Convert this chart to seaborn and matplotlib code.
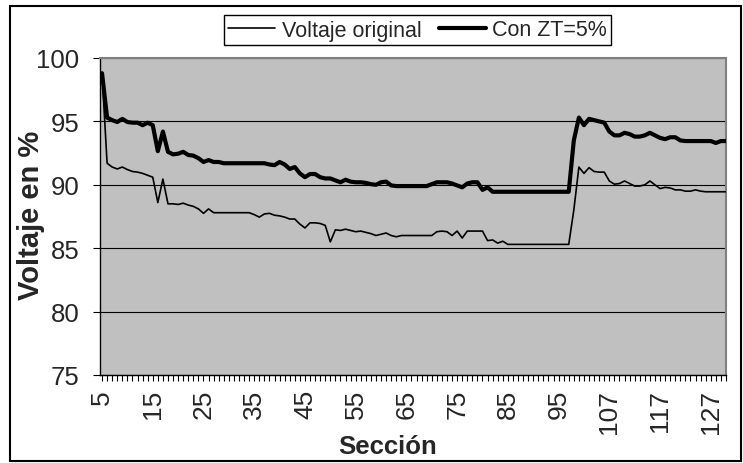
import numpy as np
import pandas as pd
import matplotlib
matplotlib.use("Agg")
import matplotlib.pyplot as plt
from matplotlib.patches import Rectangle
import seaborn as sns

# ---- data ----
secciones = list(range(5, 96)) + [96, 97, 98, 99, 100, 101, 102, 104, 106] + list(range(107, 131))

voltaje_original = [
    98.8, 91.7, 91.4, 91.25, 91.4, 91.2, 91.05, 91.0, 90.9, 90.75,
    90.6, 88.6, 90.45, 88.5, 88.5, 88.45, 88.55, 88.4, 88.3, 88.1,
    87.75, 88.1, 87.8, 87.8, 87.8, 87.8, 87.8, 87.8, 87.8, 87.8,
    87.65, 87.45, 87.7, 87.75, 87.6, 87.55, 87.45, 87.3, 87.3, 86.9,
    86.6, 87.0, 87.0, 86.95, 86.8, 85.5, 86.45, 86.4, 86.5, 86.4,
    86.3, 86.35, 86.25, 86.15, 86.0, 86.1, 86.2, 86.0, 85.9, 86.0,
    86.0, 86.0, 86.0, 86.0, 86.0, 86.0, 86.3, 86.35, 86.3, 86.0,
    86.35, 85.8, 86.35, 86.35, 86.35, 86.35, 85.6, 85.65, 85.4, 85.55,
    85.3, 85.3, 85.3, 85.3, 85.3, 85.3, 85.3, 85.3, 85.3, 85.3,
    85.3, 85.3, 85.3, 88.0, 91.4, 90.9, 91.35, 91.05, 91.0, 91.0,
    90.3, 90.05, 90.1, 90.3, 90.1, 89.9, 89.9, 90.0, 90.3, 90.0,
    89.7, 89.8, 89.75, 89.6, 89.6, 89.5, 89.5, 89.6, 89.5, 89.45,
    89.45, 89.45, 89.45, 89.45,
]

con_zt5 = [
    98.8, 95.3, 95.1, 94.95, 95.2, 94.95, 94.9, 94.9, 94.7, 94.9,
    94.7, 92.65, 94.2, 92.6, 92.4, 92.45, 92.6, 92.35, 92.3, 92.1,
    91.8, 91.95, 91.8, 91.8, 91.7, 91.7, 91.7, 91.7, 91.7, 91.7,
    91.7, 91.7, 91.7, 91.6, 91.55, 91.8, 91.6, 91.25, 91.4, 90.9,
    90.6, 90.85, 90.85, 90.6, 90.5, 90.5, 90.35, 90.2, 90.4, 90.25,
    90.2, 90.2, 90.15, 90.05, 90.0, 90.2, 90.25, 89.95, 89.9, 89.9,
    89.9, 89.9, 89.9, 89.9, 89.9, 90.05, 90.2, 90.2, 90.2, 90.1,
    89.95, 89.8, 90.1, 90.2, 90.2, 89.6, 89.8, 89.45, 89.45, 89.45,
    89.45, 89.45, 89.45, 89.45, 89.45, 89.45, 89.45, 89.45, 89.45, 89.45,
    89.45, 89.45, 89.45, 93.5, 95.3, 94.7, 95.2, 95.1, 95.0, 94.9,
    94.2, 93.9, 93.9, 94.1, 94.0, 93.8, 93.8, 93.9, 94.1, 93.9,
    93.7, 93.6, 93.75, 93.75, 93.5, 93.45, 93.45, 93.45, 93.45, 93.45,
    93.45, 93.3, 93.45, 93.45,
]

y_ticks = [75, 80, 85, 90, 95, 100]
label_every = 10

# ---- style ----
sns.set_theme(style="white")
plt.rcParams['font.family'] = ['Liberation Sans', 'DejaVu Sans']

W, H = 743, 464
fig = plt.figure(figsize=(W / 100, H / 100), dpi=100)
ax = fig.add_axes([100 / W, (H - 376) / H, 626 / W, 317 / H])
ax.set_facecolor('#C0C0C0')

idx = np.arange(len(secciones))
df = pd.DataFrame({"idx": idx, "orig": voltaje_original, "zt": con_zt5})

sns.lineplot(data=df, x="idx", y="orig", ax=ax, color='black', linewidth=1.2,
             label="Voltaje original", legend=False, zorder=3)
sns.lineplot(data=df, x="idx", y="zt", ax=ax, color='black', linewidth=3.0,
             label="Con ZT=5%", legend=False, zorder=4)
for ln in ax.get_lines():
    ln.set_solid_joinstyle('round')
    ln.set_solid_capstyle('round')

ax.set_xlim(-0.4, len(secciones) - 1)
ax.set_ylim(75, 100)
ax.set_yticks(y_ticks)
ax.set_yticklabels([str(v) for v in y_ticks], fontsize=18.5)
ax.yaxis.grid(True, color='black', linewidth=0.8)
ax.xaxis.grid(False)
ax.set_axisbelow(True)

ax.set_xticks(idx)
ax.set_xticklabels([str(s) if i % label_every == 0 else '' for i, s in enumerate(secciones)],
                   rotation=90, fontsize=19)
ax.tick_params(axis='x', direction='out', length=4, width=0.8, color='black', pad=6, bottom=True)
ax.tick_params(axis='y', direction='out', length=5, width=0.8, color='black', pad=10, left=True)

for side in ['top', 'right']:
    ax.spines[side].set_color('#808080')
    ax.spines[side].set_linewidth(1.5)
for side in ['left', 'bottom']:
    ax.spines[side].set_color('black')
    ax.spines[side].set_linewidth(1.0)

ax.set_xlabel("Sección", fontsize=18.5, fontweight='bold', va='center')
ax.xaxis.set_label_coords((388 - 100) / 626, -(447 - 376) / 317)
ax.set_ylabel("Voltaje en %", fontsize=21, fontweight='bold', va='center')
ax.yaxis.set_label_coords((31 - 100) / 626, (376 - 215) / 317)

handles, labels = ax.get_legend_handles_labels()
leg = fig.legend(handles, labels, loc='center', bbox_to_anchor=(417.5 / W, 1 - 31 / H),
                 ncol=2, fontsize=15.5, frameon=True, fancybox=False, framealpha=1,
                 edgecolor='black', facecolor='white', handlelength=2.2,
                 handletextpad=0.3, columnspacing=0.8, borderpad=0.2, borderaxespad=0)
leg.get_frame().set_linewidth(1.0)

fig.patches.append(Rectangle((10 / W, (H - 462) / H), 731 / W, 455 / H,
                             transform=fig.transFigure, fill=False,
                             edgecolor='black', linewidth=1.5))

fig.savefig("out.png", dpi=100)
